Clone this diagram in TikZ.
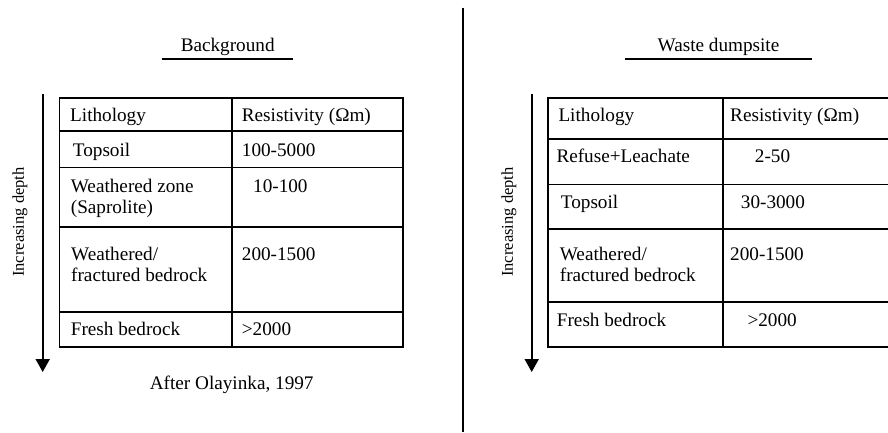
\documentclass[tikz,border=0pt]{standalone}
\usepackage{fontspec}
\setmainfont{Liberation Serif}
\usetikzlibrary{arrows.meta}
\begin{document}
\begin{tikzpicture}[x=1pt,y=-1pt,
  txt/.style={anchor=base west,inner sep=0pt,font=\fontsize{19.2}{21}\selectfont},
  ctxt/.style={anchor=base,inner sep=0pt,font=\fontsize{19.2}{21}\selectfont},
  deplab/.style={rotate=90,inner sep=0pt,font=\fontsize{16.5}{18}\selectfont},
  grid/.style={line width=1.6pt},
  uline/.style={line width=1.6pt},
  deparrow/.style={line width=1.8pt,-{Triangle[width=14pt,length=13pt]}},
  divider/.style={line width=1.6pt}]
\useasboundingbox (0,0) rectangle (888,432);
\fill[white] (0,0) rectangle (888,432);

% divider
\coordinate (dtop) at (462.7,7.5);
\coordinate (dbot) at (462.7,432);
\draw[divider] (dtop) -- (dbot);

% ---------- left panel ----------
\node[ctxt] (bgtitle) at (227.7,51) {Background};
\coordinate (bgu1) at (161.7,59);
\coordinate (bgu2) at (293.3,59);
\draw[uline] (bgu1) -- (bgu2);

\draw[grid] (59.3,97.7) rectangle (403,346.7);
\draw[grid] (231.7,97.7) -- (231.7,346.7);
\foreach \yy in {130.7,167.3,226.7,311.7}
  \draw[grid] (59.3,\yy) -- (403,\yy);

\node[txt] (l11) at (70,121.7) {Lithology};
\node[txt] (l12) at (241.7,121.7) {Resistivity (Ωm)};
\node[txt] (l21) at (72.7,156) {Topsoil};
\node[txt] (l22) at (241.7,156) {100-5000};
\node[txt] (l31) at (70.7,192.3) {Weathered zone};
\node[txt] (l31b) at (70.7,213.5) {(Saprolite)};
\node[txt] (l32) at (253,192.3) {10-100};
\node[txt] (l41) at (71,260) {Weathered/};
\node[txt] (l41b) at (71,281.7) {fractured bedrock};
\node[txt] (l42) at (241.7,260) {200-1500};
\node[txt] (l51) at (70.7,335) {Fresh bedrock};
\node[txt] (l52) at (241.7,335) {>2000};

\node[ctxt] (after) at (231.7,389) {After Olayinka, 1997};

\coordinate (la1) at (42.7,94.3);
\coordinate (la2) at (42.7,372);
\draw[deparrow] (la1) -- (la2);
\node[deplab] (ldep) at (20,222) {Increasing depth};

% ---------- right panel ----------
\node[ctxt] (wdtitle) at (718.5,51) {Waste dumpsite};
\coordinate (wdu1) at (625,59);
\coordinate (wdu2) at (811.7,59);
\draw[uline] (wdu1) -- (wdu2);

\draw[grid] (890,97.7) -- (548,97.7) -- (548,346.7) -- (890,346.7);
\draw[grid] (723,97.7) -- (723,346.7);
\foreach \yy in {139,184.3,229,301.7}
  \draw[grid] (548,\yy) -- (890,\yy);

\node[txt] (r11) at (558.3,121.7) {Lithology};
\node[txt] (r12) at (730,121.7) {Resistivity (Ωm)};
\node[txt] (r21) at (556.3,162.7) {Refuse+Leachate};
\node[txt] (r22) at (754.7,162.7) {2-50};
\node[txt] (r31) at (560.7,208.3) {Topsoil};
\node[txt] (r32) at (740.7,208.3) {30-3000};
\node[txt] (r41) at (559.7,260) {Weathered/};
\node[txt] (r41b) at (559.7,281.7) {fractured bedrock};
\node[txt] (r42) at (730,260) {200-1500};
\node[txt] (r51) at (556.7,326) {Fresh bedrock};
\node[txt] (r52) at (747.3,326) {>2000};

\coordinate (ra1) at (531.7,94.3);
\coordinate (ra2) at (531.7,372);
\draw[deparrow] (ra1) -- (ra2);
\node[deplab] (rdep) at (509,222) {Increasing depth};
\end{tikzpicture}
\end{document}
